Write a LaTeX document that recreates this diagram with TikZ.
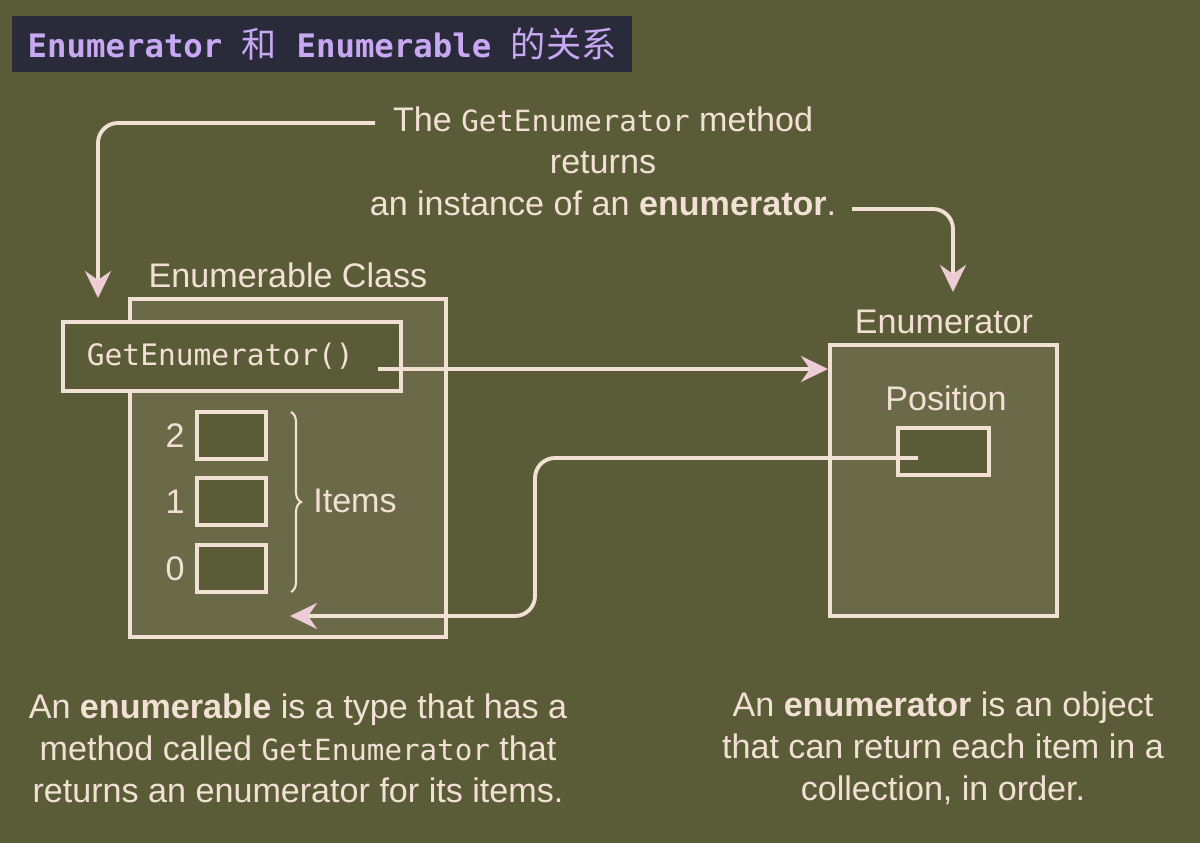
\documentclass[tikz,border=0pt]{standalone}
\usepackage{fontspec}
\setmainfont{Liberation Sans}
\setmonofont{DejaVu Sans Mono}
\newfontfamily\cjk{Noto Sans CJK SC}
\usetikzlibrary{arrows.meta,decorations.pathreplacing}
\definecolor{olive}{HTML}{5A5C37}
\definecolor{oliveLight}{HTML}{6B6A48}
\definecolor{ink}{HTML}{F2E0D4}
\definecolor{tipcol}{HTML}{EDCCD6}
\definecolor{navy}{HTML}{2A2B3A}
\definecolor{lilac}{HTML}{C8A8F2}
\newcommand\mcode[1]{{\ttfamily\fontsize{8.3}{11.9}\selectfont #1}}
\tikzstyle{box} = [draw=ink, line width=1.1pt, inner sep=0pt]
\tikzstyle{slot} = [box, fill=olive, minimum width=6.9mm, minimum height=4.7mm]
\tikzstyle{txt} = [text=ink, font=\fontsize{9.7}{11.9}\selectfont, align=center, inner sep=0pt]
\tikzstyle{conn} = [draw=ink, line width=1.1pt, rounded corners=2mm,
  -{Stealth[length=2.7mm,width=2.6mm,inset=0.9mm,color=tipcol]}]

\begin{document}
\begin{tikzpicture}[x=0.01cm, y=-0.01cm]
    \useasboundingbox (0,0) rectangle (1200,843);
    \fill[olive] (0,0) rectangle (1200,843);
    % title bar
    \node[fill=navy, minimum width=6.2cm, minimum height=0.54cm, text=lilac,
        font=\ttfamily\bfseries\fontsize{9.2}{10}\selectfont] (title) at (322,44)
        {Enumerator {\cjk\mdseries\fontsize{10}{10}\selectfont 和} Enumerable {\cjk\mdseries\fontsize{10}{10}\selectfont 的关系}};
    % enumerable side
    \node[box, fill=oliveLight, minimum width=3.16cm, minimum height=3.38cm] (classBox) at (288,468) {};
    \node[txt] (classLabel) at (288,275) {Enumerable Class};
    \node[box, fill=olive, minimum width=3.38cm, minimum height=0.69cm, inner xsep=0.24cm,
        text width=2.9cm, align=left, text=ink, font=\ttfamily\fontsize{8.4}{10}\selectfont]
        (getEnum) at (232,356.5) {GetEnumerator()};
    \foreach \n/\y in {2/435.5, 1/501.5, 0/568.5} {
        \node[slot] (item\n) at (231.5,\y) {};
        \node[txt] (num\n) at (175,\y) {\n};
    }
    \draw[ink, line width=0.6pt, decorate, decoration={brace, amplitude=0.1cm}]
        (291,412) -- (291,592);
    \node[txt] (items) at (355,501) {Items};
    % enumerator side
    \node[box, fill=oliveLight, minimum width=2.27cm, minimum height=2.71cm] (enumBox) at (943.5,480.5) {};
    \node[txt] (enumLabel) at (944,322) {Enumerator};
    \node[txt] (posLabel) at (946,398) {Position};
    \node[box, fill=olive, minimum width=0.91cm, minimum height=0.47cm] (posBox) at (943.5,451.5) {};
    % texts
    \node[txt] (topNote) at (603,161)
        {The \mcode{GetEnumerator} method\\returns\\an instance of an \textbf{enumerator}.};
    \node[txt] (leftNote) at (298,748)
        {An \textbf{enumerable} is a type that has a\\method called \mcode{GetEnumerator} that\\returns an enumerator for its items.};
    \node[txt] (rightNote) at (943,748)
        {An \textbf{enumerator} is an object\\that can return each item in a\\collection, in order.};
    % connectors
    \coordinate (topStart) at (375,123);
    \coordinate (topEnd) at (98,298);
    \coordinate (rightStart) at (852,209);
    \coordinate (rightEnd) at (953,292);
    \coordinate (getStart) at (378,369);
    \coordinate (posStart) at (918,458);
    \coordinate (backEnd) at (290,616);
    \draw[conn] (topStart) -| (topEnd);
    \draw[conn] (rightStart) -| (rightEnd);
    \draw[conn] (getStart) -- (getStart -| enumBox.west);
    \draw[conn] (posStart) -- (535,458) -- (535,616) -- (backEnd);
\end{tikzpicture}
\end{document}
